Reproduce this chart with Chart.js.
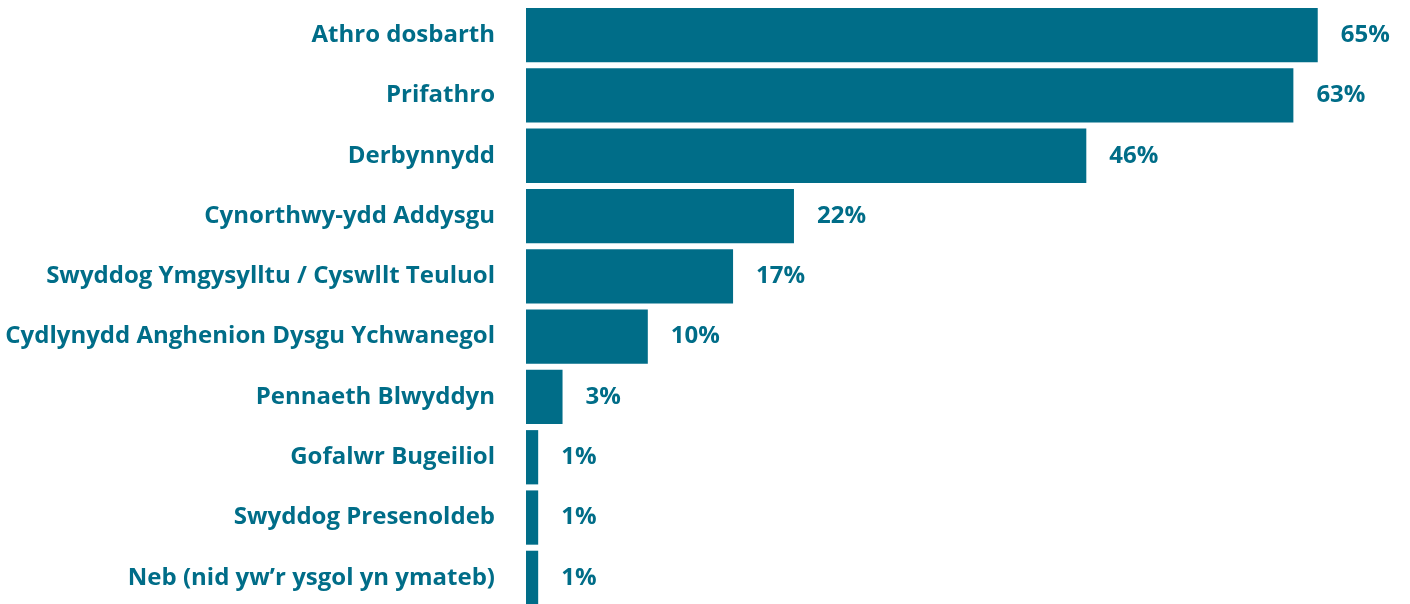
<!DOCTYPE html>
<html>
<head>
<meta charset="utf-8">
<script src="https://cdn.jsdelivr.net/npm/chart.js@4"></script>
<style>
  html, body { margin: 0; padding: 0; background: #fff; overflow: hidden; }
  canvas { display: block; }
</style>
</head>
<body>
<canvas id="roleChart" width="1410" height="608"></canvas>
<script>
// ==================== DATA ====================
const categories = [
    'Athro dosbarth',
    'Prifathro',
    'Derbynnydd',
    'Cynorthwy-ydd Addysgu',
    'Swyddog Ymgysylltu / Cyswllt Teuluol',
    'Cydlynydd Anghenion Dysgu Ychwanegol',
    'Pennaeth Blwyddyn',
    'Gofalwr Bugeiliol',
    'Swyddog Presenoldeb',
    'Neb (nid yw\u2019r ysgol yn ymateb)'
];
const percentages = [65, 63, 46, 22, 17, 10, 3, 1, 1, 1];

// ==================== STYLE ====================
const TEAL = '#006d88';
const FONT = '"Open Sans", "DejaVu Sans", sans-serif';

// value labels drawn after the bars
const valueLabels = {
    id: 'valueLabels',
    afterDatasetsDraw(chart) {
        const ctx = chart.ctx;
        const meta = chart.getDatasetMeta(0);
        ctx.save();
        ctx.fillStyle = TEAL;
        ctx.font = 'bold 24px ' + FONT;
        ctx.textAlign = 'left';
        ctx.textBaseline = 'middle';
        meta.data.forEach((bar, i) => {
            ctx.fillText(percentages[i] + '%', bar.x + 23, bar.y);
        });
        ctx.restore();
    }
};

const ctx = document.getElementById('roleChart').getContext('2d');
new Chart(ctx, {
    type: 'bar',
    data: {
        labels: categories,
        datasets: [{
            data: percentages,
            backgroundColor: TEAL,
            borderWidth: 0,
            categoryPercentage: 0.9,
            barPercentage: 1.0
        }]
    },
    plugins: [valueLabels],
    options: {
        indexAxis: 'y',
        responsive: false,
        animation: false,
        layout: { padding: { top: 5, right: 7, bottom: 0, left: 0 } },
        plugins: {
            legend: { display: false },
            tooltip: { enabled: false }
        },
        scales: {
            x: {
                min: 0,
                max: 72,
                display: false,
                grid: { display: false }
            },
            y: {
                grid: { display: false, drawTicks: false },
                border: { display: false },
                // fixed label column; drop the extra top/bottom padding from tick padding
                afterFit: s => {
                    s.width = 526;
                    s.paddingTop = 0;
                    s.paddingBottom = 0;
                },
                ticks: {
                    color: TEAL,
                    padding: 31,
                    font: { family: FONT, size: 24, weight: 'bold' }
                }
            }
        }
    }
});
</script>
</body>
</html>
